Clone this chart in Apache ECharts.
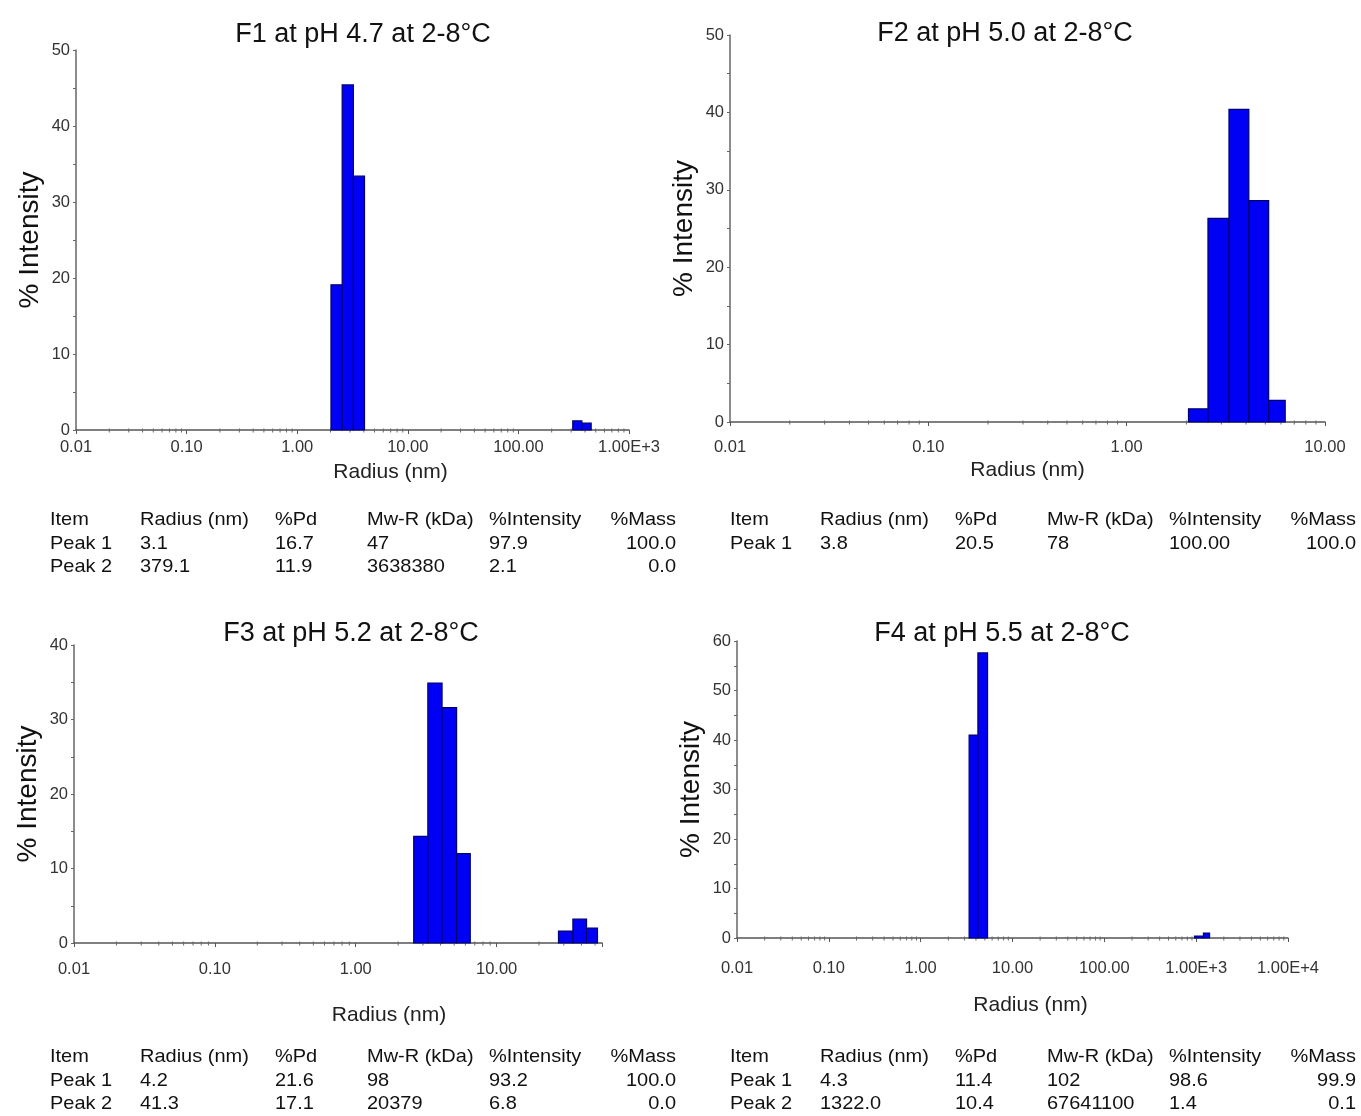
<!DOCTYPE html>
<html>
<head>
<meta charset="utf-8">
<script src="https://cdn.jsdelivr.net/npm/echarts@6/dist/echarts.min.js"></script>
<style>
html,body{margin:0;padding:0;background:#fff;}
#chart{width:1361px;height:1116px;}
</style>
</head>
<body>
<div id="chart"></div>
<script>
// ---------- DATA ----------
const titles = ["F1 at pH 4.7 at 2-8°C", "F2 at pH 5.0 at 2-8°C", "F3 at pH 5.2 at 2-8°C", "F4 at pH 5.5 at 2-8°C"];

// bin edges (radius, nm) and % intensity per bin
const edgesF1a = [2.02, 2.55, 3.22, 4.06];
const valuesF1a = [19.1, 45.4, 33.4];
const edgesF1b = [310, 375, 455];
const valuesF1b = [1.2, 0.9];

const edgesF2a = [2.05, 2.57, 3.28, 4.13, 5.2, 6.3];
const valuesF2a = [1.7, 26.3, 40.4, 28.6, 2.8];

const edgesF3a = [2.58, 3.25, 4.1, 5.2, 6.5];
const valuesF3a = [14.3, 34.9, 31.6, 12.0];
const edgesF3b = [27.5, 34.8, 43.5, 52];
const valuesF3b = [1.6, 3.2, 2.0];

const edgesF4a = [3.37, 4.2, 5.35];
const valuesF4a = [41.0, 57.6];
const edgesF4b = [960, 1200, 1400];
const valuesF4b = [0.4, 1.0];

// axis ranges
const xMin = [0.01, 0.01, 0.01, 0.01];
const xMax = [1000, 10, 56, 10000];
const yMax = [50, 50, 40, 60];

// tick labels (by decade starting at 0.01)
const xTickLabels = ["0.01", "0.10", "1.00", "10.00", "100.00", "1.00E+3", "1.00E+4"];

// tables
const tableHeader = ["Item", "Radius (nm)", "%Pd", "Mw-R (kDa)", "%Intensity", "%Mass"];
const tableF1 = [["Peak 1", "3.1", "16.7", "47", "97.9", "100.0"], ["Peak 2", "379.1", "11.9", "3638380", "2.1", "0.0"]];
const tableF2 = [["Peak 1", "3.8", "20.5", "78", "100.00", "100.0"]];
const tableF3 = [["Peak 1", "4.2", "21.6", "98", "93.2", "100.0"], ["Peak 2", "41.3", "17.1", "20379", "6.8", "0.0"]];
const tableF4 = [["Peak 1", "4.3", "11.4", "102", "98.6", "99.9"], ["Peak 2", "1322.0", "10.4", "67641100", "1.4", "0.1"]];

// ---------- LAYOUT ----------
const FONT = "'Liberation Sans', Arial, sans-serif";
const grids = [
  {left: 76, top: 50, width: 553, height: 380},
  {left: 730, top: 35, width: 595, height: 387},
  {left: 74, top: 645, width: 528, height: 298},
  {left: 737, top: 641, width: 551, height: 297}
];
const titlePos = [[358, 16], [1000, 15], [346, 615], [997, 615]];
const xNamePad = [76, 0, 102, 36];
const xNameGap = [32, 38, 62, 57];
const xLabelMargin = [9, 17, 18, 22];
const tables = [tableF1, tableF2, tableF3, tableF4];
const tablePos = [[50, 520], [730, 520], [50, 1057], [730, 1057]];
const colOffsets = [0, 90, 225, 317, 439, 626];
const rowGap = 23.5;

function bins(edges, values) {
  return values.map((v, i) => [edges[i], edges[i + 1], v]);
}
const binData = [
  bins(edgesF1a, valuesF1a).concat(bins(edgesF1b, valuesF1b)),
  bins(edgesF2a, valuesF2a),
  bins(edgesF3a, valuesF3a).concat(bins(edgesF3b, valuesF3b)),
  bins(edgesF4a, valuesF4a).concat(bins(edgesF4b, valuesF4b))
];

// minor tick decoration positions (2..9 x 10^k) within each axis range
function minorTickVals(lo, hi) {
  const out = [];
  for (let k = Math.floor(Math.log10(lo)); k <= Math.ceil(Math.log10(hi)); k++) {
    for (let m = 2; m <= 9; m++) {
      const v = m * Math.pow(10, k);
      if (v > lo && v < hi) out.push([v]);
    }
  }
  return out;
}

function renderBar(params, api) {
  const p0 = api.coord([api.value(0), api.value(2)]);
  const p1 = api.coord([api.value(1), 0]);
  return {
    type: 'rect',
    shape: {x: p0[0], y: p0[1], width: p1[0] - p0[0], height: p1[1] - p0[1]},
    style: {fill: '#0000f5', stroke: '#000070', lineWidth: 1.2}
  };
}
function renderMinor(params, api) {
  const p = api.coord([api.value(0), 0]);
  return {
    type: 'line',
    shape: {x1: p[0], y1: p[1] - 1.5, x2: p[0], y2: p[1] + 2.5},
    style: {stroke: '#666', lineWidth: 1}
  };
}

const option = {
  backgroundColor: '#fff',
  animation: false,
  textStyle: {fontFamily: FONT},
  title: titles.map((t, i) => ({
    text: t, left: titlePos[i][0], top: titlePos[i][1], textAlign: 'center',
    textStyle: {fontFamily: FONT, fontSize: 27, fontWeight: 'normal', color: '#111'}
  })),
  grid: grids.map(g => Object.assign({containLabel: false}, g)),
  xAxis: grids.map((g, i) => ({
    type: 'log', logBase: 10, gridIndex: i, min: xMin[i], max: xMax[i],
    splitNumber: Math.round(Math.log10(xMax[i] / xMin[i])),
    name: 'Radius (nm)', nameLocation: 'middle', nameGap: xNameGap[i],
    nameTextStyle: {fontFamily: FONT, fontSize: 21, color: '#222', padding: [0, 0, 0, xNamePad[i]]},
    axisLine: {show: true, onZero: false, lineStyle: {color: '#555', width: 1.5}},
    axisTick: {show: true, length: 4, lineStyle: {color: '#555'}},
    axisLabel: {
      fontFamily: FONT, fontSize: 16.5, color: '#333', margin: xLabelMargin[i],
      formatter: v => {
        const lg = Math.log10(v);
        const r = Math.round(lg);
        if (Math.abs(lg - r) > 1e-6) return '';
        const idx = r + 2;
        return xTickLabels[idx] !== undefined ? xTickLabels[idx] : '';
      }
    },
    splitLine: {show: false}
  })),
  yAxis: grids.map((g, i) => ({
    type: 'value', gridIndex: i, min: 0, max: yMax[i], interval: 10,
    name: '% Intensity', nameLocation: 'middle', nameGap: 32, nameRotate: 90,
    nameTextStyle: {fontFamily: FONT, fontSize: 28, color: '#111'},
    axisLine: {show: true, lineStyle: {color: '#666', width: 1.5}},
    axisTick: {show: true, length: 3, lineStyle: {color: '#666'}},
    minorTick: {show: true, splitNumber: 2, length: 3, lineStyle: {color: '#666'}},
    axisLabel: {fontFamily: FONT, fontSize: 16.5, color: '#333', margin: 6},
    splitLine: {show: false}
  })),
  series: [].concat(
    binData.map((d, i) => ({
      type: 'custom', name: titles[i], xAxisIndex: i, yAxisIndex: i,
      renderItem: renderBar, encode: {x: [0, 1], y: 2}, data: d, z: 3
    })),
    grids.map((g, i) => ({
      type: 'custom', name: 'minor' + i, xAxisIndex: i, yAxisIndex: i, silent: true,
      renderItem: renderMinor, encode: {x: 0}, data: minorTickVals(xMin[i], xMax[i]), z: 2
    }))
  ),
  graphic: []
};

// tables as text
tables.forEach((rows, ti) => {
  const [bx, by] = tablePos[ti];
  [tableHeader].concat(rows).forEach((row, ri) => {
    row.forEach((cell, ci) => {
      const isLast = ci === row.length - 1;
      option.graphic.push({
        type: 'text', x: bx + colOffsets[ci], y: by + ri * rowGap, scaleX: 1.08,
        style: {
          text: cell, fill: '#111', fontFamily: FONT, fontSize: 18.5,
          align: isLast ? 'right' : 'left', verticalAlign: 'middle'
        }
      });
    });
  });
});

const chart = echarts.init(document.getElementById('chart'), null, {renderer: 'canvas'});
chart.setOption(option);
</script>
</body>
</html>
